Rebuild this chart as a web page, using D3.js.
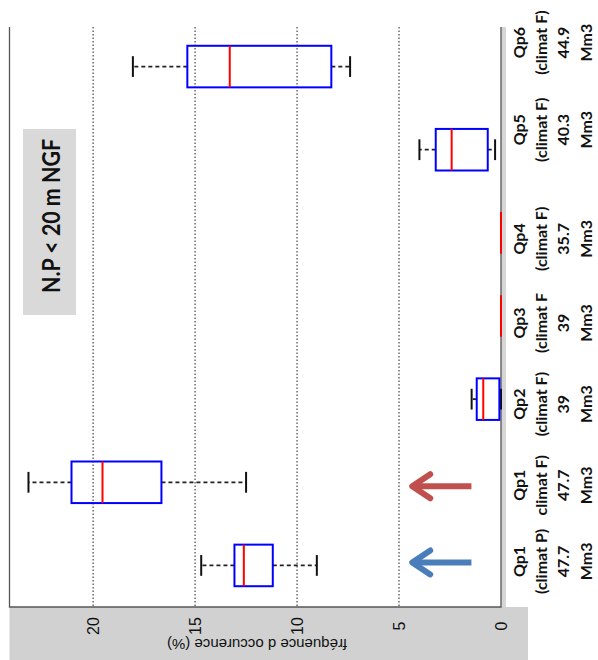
<!DOCTYPE html>
<html>
<head>
<meta charset="utf-8">
<script src="https://cdn.jsdelivr.net/npm/d3@7"></script>
<style>
  html, body { margin: 0; padding: 0; background: #ffffff; }
  svg { display: block; }
</style>
</head>
<body>
<script>
// ---------- data ----------
const categories = ["Qp1P", "Qp1F", "Qp2", "Qp3", "Qp4", "Qp5", "Qp6"];
const categoryLabels = [
  ["Qp1", "(climat P)", "47.7", "Mm3"],
  ["Qp1", "climat F)", "47.7", "Mm3"],
  ["Qp2", "(climat F)", "39", "Mm3"],
  ["Qp3", "(climat F", "39", "Mm3"],
  ["Qp4", "(climat F)", "35.7", "Mm3"],
  ["Qp5", "(climat F)", "40.3", "Mm3"],
  ["Qp6", "(climat F)", "44.9", "Mm3"]
];
const whiskerLow  = [9.03, 12.5, 0,    0, 0, 0.29, 7.4];
const q1          = [11.19, 16.65, 0.08, 0, 0, 0.65, 8.32];
const median      = [12.61, 19.54, 0.87, 0, 0, 2.42, 13.3];
const q3          = [13.07, 21.06, 1.19, 0, 0, 3.2, 15.38];
const whiskerHigh = [14.7, 23.17, 1.44, 0, 0, 4.0, 18.05];
const tickValues = [0, 5, 10, 15, 20];
const tickLabels = ["0", "5", "10", "15", "20"];
const axisLabel = "fréquence d occurence (%)";
const titleText = "N.P < 20 m NGF";
// arrows (value range of the arrow, and the category each one points at)
const arrowCats = ["Qp1P", "Qp1F"];
const arrowColors = ["#4A7EBB", "#C0504D"];
const arrowFrom = 1.45, arrowTo = 4.45;

// ---------- layout ----------
const W = 598, H = 660;
const plotLeft = 9.5, plotRight = 501, plotTop = 27, plotBottom = 607;
const labelShift = [-4, 3, 5, 7, 6, -20, -24];

const svg = d3.select("body").append("svg").attr("width", W).attr("height", H);

const x = d3.scaleLinear().domain([0, 24.1]).range([plotRight, plotLeft]);
const y = d3.scaleBand().domain(categories).range([plotBottom, 25]).padding(0);
const bw = y.bandwidth();
const cy = c => y(c) + bw / 2;

// grey figure background strips
svg.append("rect").attr("x", plotLeft).attr("y", plotBottom).attr("width", 528 - plotLeft)
  .attr("height", H - plotBottom).attr("fill", "#d1d1d1");
svg.append("rect").attr("x", plotRight).attr("y", plotTop).attr("width", 5)
  .attr("height", plotBottom - plotTop).attr("fill", "#d6d6d6");

// grid lines
svg.append("g").selectAll("line").data(tickValues.filter(v => v > 0)).join("line")
  .attr("x1", d => x(d)).attr("x2", d => x(d))
  .attr("y1", plotTop).attr("y2", plotBottom)
  .attr("stroke", "#555").attr("stroke-width", 1.3)
  .attr("stroke-dasharray", "1.5,2");

// frame
svg.append("path")
  .attr("d", `M${plotLeft},${plotTop}V${plotBottom}H${plotRight}V${plotTop}`)
  .attr("fill", "none").attr("stroke", "#555").attr("stroke-width", 1.3);

// title box
const tb = svg.append("g");
tb.append("rect").attr("x", 23).attr("y", 129).attr("width", 53).attr("height", 186).attr("fill", "#d9d9d9");
tb.append("text").attr("transform", `translate(50,216) rotate(-90)`)
  .attr("text-anchor", "middle").attr("dominant-baseline", "central")
  .attr("font-family", "Lato, 'Open Sans', sans-serif").attr("font-weight", "bold")
  .attr("font-size", 25).attr("fill", "#111")
  .attr("textLength", 154).attr("lengthAdjust", "spacingAndGlyphs")
  .text(titleText);

// boxes
const g = svg.append("g");
categories.forEach((c, i) => {
  const yc = cy(c);
  const capH = bw * 0.25, boxH = bw * 0.5;
  // whiskers
  g.append("line").attr("x1", x(q3[i])).attr("x2", x(whiskerHigh[i])).attr("y1", yc).attr("y2", yc)
    .attr("stroke", "#222").attr("stroke-width", 1.8).attr("stroke-dasharray", "4,3");
  g.append("line").attr("x1", x(q1[i])).attr("x2", x(whiskerLow[i])).attr("y1", yc).attr("y2", yc)
    .attr("stroke", "#222").attr("stroke-width", 1.8).attr("stroke-dasharray", "4,3");
  // caps
  [whiskerHigh[i], whiskerLow[i]].forEach(v => {
    g.append("line").attr("x1", x(v)).attr("x2", x(v)).attr("y1", yc - capH / 2).attr("y2", yc + capH / 2)
      .attr("stroke", "#111").attr("stroke-width", 2);
  });
  // box
  g.append("rect").attr("x", x(q3[i])).attr("y", yc - boxH / 2)
    .attr("width", x(q1[i]) - x(q3[i])).attr("height", boxH)
    .attr("fill", "none").attr("stroke", "#0000ff").attr("stroke-width", 2);
  // median
  g.append("line").attr("x1", x(median[i])).attr("x2", x(median[i]))
    .attr("y1", yc - boxH / 2).attr("y2", yc + boxH / 2)
    .attr("stroke", "#ff0000").attr("stroke-width", 2);
});

// tick labels
svg.append("g").selectAll("text").data(tickValues).join("text")
  .attr("transform", (d, i) => `translate(${x(d)},626) rotate(-90)`)
  .attr("text-anchor", "middle").attr("dominant-baseline", "central")
  .attr("font-family", "'Liberation Sans', Arial, sans-serif").attr("font-size", 16)
  .attr("fill", "#111").text((d, i) => tickLabels[i]);

// axis label (upside down)
svg.append("text").attr("transform", `translate(257,644) rotate(180)`)
  .attr("text-anchor", "middle").attr("dominant-baseline", "central")
  .attr("font-family", "'Liberation Sans', Arial, sans-serif").attr("font-size", 15)
  .attr("fill", "#111").text(axisLabel);

// category labels
const lineX = [518, 540, 562, 585];
categories.forEach((c, i) => {
  const yc = cy(c) + labelShift[i];
  categoryLabels[i].forEach((t, j) => {
    svg.append("text").attr("transform", `translate(${lineX[j]},${yc}) rotate(-90)`)
      .attr("text-anchor", "middle").attr("dominant-baseline", "central")
      .attr("font-family", "Lato, 'Open Sans', sans-serif").attr("font-weight", "bold")
      .attr("font-size", 16).attr("fill", "#111").text(t);
  });
});

// arrows
arrowCats.forEach((c, i) => {
  const yc = cy(c) + (i === 0 ? -3 : 4);
  const x0 = x(arrowFrom), x1 = x(arrowTo);
  const ag = svg.append("g").attr("stroke", arrowColors[i]).attr("stroke-width", 6)
    .attr("stroke-linecap", "round").attr("stroke-linejoin", "round").attr("fill", "none");
  ag.append("line").attr("x1", x0).attr("x2", x1 + 3).attr("y1", yc).attr("y2", yc).attr("stroke-linecap", "butt");
  ag.append("path").attr("d", `M${x1 + 20},${yc - 12}L${x1 + 2},${yc}L${x1 + 20},${yc + 12}`);
});
</script>
</body>
</html>
